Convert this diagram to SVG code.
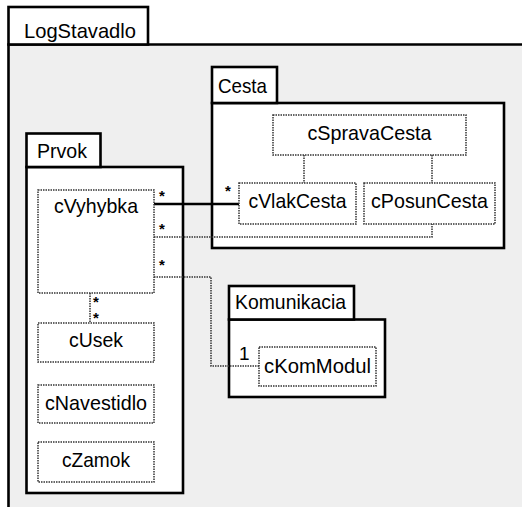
<svg xmlns="http://www.w3.org/2000/svg" width="522" height="507" viewBox="0 0 522 507">
<style>
.frame{fill:#ffffff;stroke:#000;stroke-width:2.6}
.bg{fill:#efefef;stroke:none}
.cls{fill:#ffffff;stroke:#333;stroke-width:1.5;stroke-dasharray:1.5 1}
.dot{fill:none;stroke:#333;stroke-width:1.5;stroke-dasharray:1.5 1}
.solid{fill:none;stroke:#000;stroke-width:2.5}
text{font-family:"Liberation Sans",Arial,sans-serif;font-size:21px;fill:#000}
.c{text-anchor:middle}
.m{font-size:15px;font-weight:bold}
</style>
<g id="LogStavadlo">
<rect class="bg" x="8" y="44" width="514" height="463"/>
<path d="M8.5,507 V44.5 H522" fill="none" stroke="#000" stroke-width="2.6"/>
<rect class="frame" x="8.5" y="7" width="139.5" height="37.5"/>
<text x="24" y="38" textLength="112" lengthAdjust="spacingAndGlyphs">LogStavadlo</text>
</g>
<g id="Cesta">
<rect class="frame" x="212" y="103" width="292" height="145"/>
<rect class="frame" x="212" y="67" width="65" height="36"/>
<text x="218" y="93" textLength="49" lengthAdjust="spacingAndGlyphs">Cesta</text>
</g>
<g id="Prvok">
<rect class="frame" x="26.5" y="167" width="156.5" height="326"/>
<rect class="frame" x="26.5" y="133.5" width="74" height="33.5"/>
<text x="37" y="158" textLength="50" lengthAdjust="spacingAndGlyphs">Prvok</text>
</g>
<g id="Komunikacia">
<rect class="frame" x="229" y="319.5" width="156" height="77.5"/>
<rect class="frame" x="229" y="286" width="125" height="33.5"/>
<text x="235" y="309" textLength="111" lengthAdjust="spacingAndGlyphs">Komunikacia</text>
</g>
<g id="connectors">
<line class="dot" x1="304" y1="155" x2="304" y2="183"/>
<line class="dot" x1="432" y1="155" x2="432" y2="183"/>
<line class="solid" x1="154" y1="204" x2="239" y2="204"/>
<path class="dot" d="M154,237 H432 V224"/>
<path class="dot" d="M154,277 H211 V366 H259"/>
<line class="dot" x1="90" y1="293" x2="90" y2="323"/>
<text class="m" x="159" y="201">*</text>
<text class="m" x="225" y="196">*</text>
<text class="m" x="159" y="234">*</text>
<text class="m" x="159" y="270">*</text>
<text class="m" x="93" y="307">*</text>
<text class="m" x="93" y="323">*</text>
<text x="239" y="360" style="font-size:19px">1</text>
</g>
<g id="cSpravaCesta">
<rect class="cls" x="273" y="115" width="193" height="40"/>
<text class="c" x="369.5" y="140" textLength="124" lengthAdjust="spacingAndGlyphs">cSpravaCesta</text>
</g>
<g id="cVlakCesta">
<rect class="cls" x="239" y="183" width="117" height="41"/>
<text class="c" x="297.5" y="208" textLength="98" lengthAdjust="spacingAndGlyphs">cVlakCesta</text>
</g>
<g id="cPosunCesta">
<rect class="cls" x="364" y="183" width="131" height="41"/>
<text class="c" x="429.5" y="208" textLength="117" lengthAdjust="spacingAndGlyphs">cPosunCesta</text>
</g>
<g id="cVyhybka">
<rect class="cls" x="38" y="190" width="116" height="103"/>
<text class="c" x="96" y="213" textLength="84" lengthAdjust="spacingAndGlyphs">cVyhybka</text>
</g>
<g id="cUsek">
<rect class="cls" x="38" y="323" width="116" height="39"/>
<text class="c" x="96" y="347" textLength="54" lengthAdjust="spacingAndGlyphs">cUsek</text>
</g>
<g id="cNavestidlo">
<rect class="cls" x="38" y="385" width="116" height="38"/>
<text class="c" x="96" y="410" textLength="102" lengthAdjust="spacingAndGlyphs">cNavestidlo</text>
</g>
<g id="cZamok">
<rect class="cls" x="38" y="442" width="116" height="40"/>
<text class="c" x="96" y="467" textLength="68" lengthAdjust="spacingAndGlyphs">cZamok</text>
</g>
<g id="cKomModul">
<rect class="cls" x="259" y="347" width="117" height="39"/>
<text class="c" x="317.5" y="373" textLength="107" lengthAdjust="spacingAndGlyphs">cKomModul</text>
</g>
</svg>
